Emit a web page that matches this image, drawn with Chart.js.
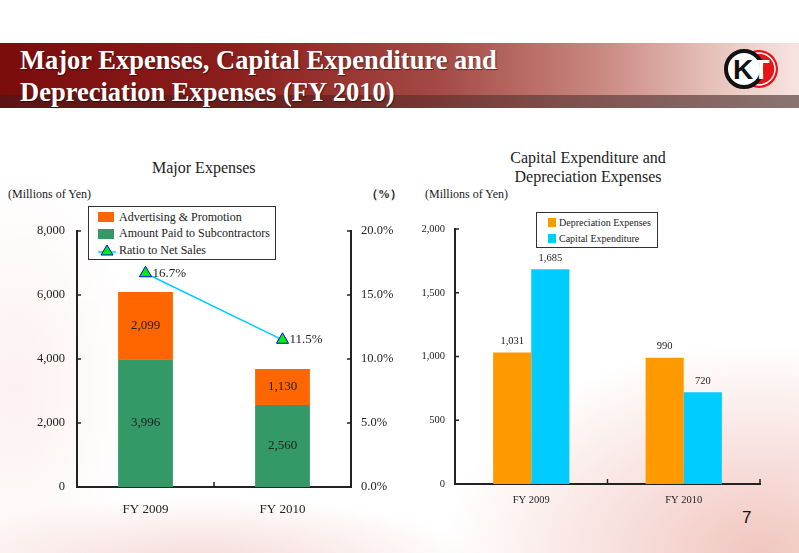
<!DOCTYPE html>
<html>
<head>
<meta charset="utf-8">
<script src="https://cdn.jsdelivr.net/npm/chart.js@4.4.1/dist/chart.umd.min.js"></script>
<style>
body { margin: 0; width: 799px; height: 553px; overflow: hidden; position: relative; background: #fff; font-family: "Liberation Serif", "Times New Roman", serif; color: #222; }
.bg { position: absolute; left: 0; top: 0; width: 799px; height: 553px;
  background:
    radial-gradient(ellipse 420px 280px at 95% 100%, rgba(232,160,150,0.6), rgba(255,255,255,0) 75%),
    radial-gradient(ellipse 380px 90px at 25% 102%, rgba(236,180,175,0.5), rgba(255,255,255,0) 75%),
    radial-gradient(ellipse 160px 300px at 2% 70%, rgba(245,215,212,0.35), rgba(255,255,255,0) 75%); }
.banner { position: absolute; left: 0; top: 43px; width: 799px; height: 65px;
  background: linear-gradient(to right, #7a0c0c 0%, #8c201d 30%, #a44a45 55%, #c98880 75%, #ecccc6 92%, #f6e4e1 100%); }
.strip { position: absolute; left: 0; top: 95px; width: 799px; height: 13px;
  background: linear-gradient(to right, #5e1313 0%, #6e2420 40%, #7e4f4b 70%, #8a7470 100%); }
.title { position: absolute; left: 20px; top: 44px; color: #fff; font-weight: bold; font-size: 26.5px; line-height: 32px; text-shadow: 1px 1px 1px rgba(0,0,0,0.5); }
.logo { position: absolute; left: 724px; top: 47px; }
.t { position: absolute; white-space: nowrap; }
canvas { position: absolute; }
.legend { position: absolute; background: #fff; border: 1.5px solid #333; box-sizing: border-box; }
.row { display: flex; align-items: center; white-space: nowrap; }
.sw { display: inline-block; }
</style>
</head>
<body>
<div class="bg"></div>
<div class="banner"></div>
<div class="strip"></div>
<div class="title">Major Expenses, Capital Expenditure and<br>Depreciation Expenses (FY 2010)</div>
<svg class="logo" width="56" height="44" viewBox="0 0 56 44">
  <circle cx="35" cy="22" r="19" fill="#e8141b"/>
  <circle cx="35" cy="22" r="16" fill="#e8141b" stroke="#fff" stroke-width="1.5"/>
  <circle cx="20" cy="22" r="18" fill="#fff" stroke="#111" stroke-width="4"/>
  <text x="19" y="32" text-anchor="middle" font-family="Liberation Sans" font-weight="bold" font-size="28" fill="#111">K</text>
  <text x="37" y="32" text-anchor="middle" font-family="Liberation Sans" font-weight="bold" font-size="28" fill="#fff">T</text>
</svg>

<div class="t" style="left:152px; top:158px; font-size:16px; line-height:20px;">Major Expenses</div>
<div class="t" style="left:8px; top:186px; font-size:12px; line-height:16px;">(Millions of Yen)</div>
<div class="t" style="left:366px; top:186px; font-size:12px; line-height:16px; font-weight:bold;">（%）</div>
<div class="t" style="left:508px; top:148px; font-size:16px; line-height:19px; text-align:center; width:160px;">Capital Expenditure and<br>Depreciation Expenses</div>
<div class="t" style="left:425px; top:186px; font-size:12px; line-height:16px;">(Millions of Yen)</div>
<div class="t" style="left:742px; top:508px; font-size:17px; line-height:20px; font-family:'Liberation Sans', sans-serif; color:#111;">7</div>

<canvas id="left" width="420" height="330" style="left:0; top:200px;"></canvas>
<canvas id="right" width="379" height="330" style="left:420px; top:200px;"></canvas>

<div class="legend" style="left:88px; top:206px; width:188px; height:54px; padding:2px 0 0 9px; font-size:12px;">
  <div class="row" style="height:16.5px;"><span class="sw" style="width:16px; height:10px; background:#ff6600; margin-right:5px;"></span>Advertising &amp; Promotion</div>
  <div class="row" style="height:16.5px;"><span class="sw" style="width:16px; height:10px; background:#339966; margin-right:5px;"></span>Amount Paid to Subcontractors</div>
  <div class="row" style="height:16.5px;"><svg width="18" height="14" style="margin-right:3px;"><line x1="0" y1="9" x2="18" y2="9" stroke="#00ccff" stroke-width="1.5"/><polygon points="9,2 15,12 3,12" fill="#00ee00" stroke="#0000ff" stroke-width="1"/></svg>Ratio to Net Sales</div>
</div>

<div class="legend" style="left:536px; top:212px; width:122px; height:36px; padding:2px 0 0 11px; font-size:10px;">
  <div class="row" style="height:15.5px;"><span class="sw" style="width:8px; height:9px; background:#ff9900; margin-right:3px;"></span>Depreciation Expenses</div>
  <div class="row" style="height:15.5px;"><span class="sw" style="width:8px; height:9px; background:#00ccff; margin-right:3px;"></span>Capital Expenditure</div>
</div>

<script>
// values
const years = ['FY 2009', 'FY 2010'];
const subcontractors = [3996, 2560];
const advertising = [2099, 1130];
const ratioToSales = [16.7, 11.5];
const depreciation = [1031, 990];
const capex = [1685, 720];

const serif = '"Liberation Serif", "Times New Roman", serif';
const ink = '#222';

function fmt(v) {
    return v.toLocaleString('en-US');
}

// small tick marks pointing into the plot, like the original slide
const innerTicks = {
    id: 'innerTicks',
    afterDraw(chart) {
        const ctx = chart.ctx;
        const area = chart.chartArea;
        ctx.save();
        ctx.strokeStyle = ink;
        ctx.lineWidth = 1.5;
        Object.values(chart.scales).forEach(function(scale) {
            if (scale.axis === 'y') {
                const left = scale.position === 'left';
                const x0 = left ? area.left : area.right;
                const dir = left ? 1 : -1;
                scale.ticks.forEach(function(t, i) {
                    const y = scale.getPixelForTick(i);
                    ctx.beginPath();
                    ctx.moveTo(x0, y);
                    ctx.lineTo(x0 + dir * 4, y);
                    ctx.stroke();
                });
            } else {
                const a = scale.getPixelForValue(0);
                const b = scale.getPixelForValue(1);
                [(a + b) / 2, area.right].forEach(function(x) {
                    ctx.beginPath();
                    ctx.moveTo(x, area.bottom);
                    ctx.lineTo(x, area.bottom - 5);
                    ctx.stroke();
                });
            }
        });
        ctx.restore();
    }
};

const valueLabels = {
    id: 'valueLabels',
    afterDatasetsDraw(chart, args, opts) {
        const ctx = chart.ctx;
        ctx.save();
        ctx.fillStyle = ink;
        ctx.font = opts.size + 'px ' + serif;
        chart.data.datasets.forEach(function(ds, di) {
            const meta = chart.getDatasetMeta(di);
            meta.data.forEach(function(el, i) {
                const v = ds.data[i];
                if (ds.type === 'line') {
                    ctx.textAlign = 'left';
                    ctx.textBaseline = 'middle';
                    ctx.fillText(v.toFixed(1) + '%', el.x + 7, el.y);
                } else if (opts.mode === 'inside') {
                    ctx.textAlign = 'center';
                    ctx.textBaseline = 'middle';
                    ctx.fillText(fmt(v), el.x, (el.y + el.base) / 2);
                } else {
                    ctx.textAlign = 'center';
                    ctx.textBaseline = 'bottom';
                    ctx.fillText(fmt(v), el.x, el.y - 6);
                }
            });
        });
        ctx.restore();
    }
};

const axisLine = { display: true, color: ink, width: 2 };
const noGrid = { display: false, drawTicks: false };

new Chart(document.getElementById('left'), {
    type: 'bar',
    data: {
        labels: years,
        datasets: [{
            type: 'line',
            label: 'Ratio to Net Sales',
            data: ratioToSales,
            yAxisID: 'y1',
            borderColor: '#00ccff',
            borderWidth: 1.5,
            pointStyle: 'triangle',
            pointRadius: 7,
            pointBackgroundColor: '#00ee00',
            pointBorderColor: '#0000ff',
            pointBorderWidth: 1,
            order: 0
        }, {
            label: 'Amount Paid to Subcontractors',
            data: subcontractors,
            backgroundColor: '#339966',
            order: 1
        }, {
            label: 'Advertising & Promotion',
            data: advertising,
            backgroundColor: '#ff6600',
            order: 1
        }]
    },
    options: {
        responsive: false,
        animation: false,
        devicePixelRatio: 1,
        layout: { padding: { top: 31, left: 0, right: 0, bottom: 0 } },
        barPercentage: 0.4,
        categoryPercentage: 1.0,
        plugins: {
            legend: { display: false },
            tooltip: { enabled: false },
            valueLabels: { mode: 'inside', size: 13 }
        },
        scales: {
            x: {
                stacked: true,
                grid: noGrid,
                border: axisLine,
                ticks: { color: ink, font: { family: serif, size: 13 }, padding: 15 },
                afterFit: function(s) { s.height = 43; }
            },
            y: {
                stacked: true,
                min: 0,
                max: 8000,
                grid: noGrid,
                border: axisLine,
                ticks: { stepSize: 2000, color: ink, font: { family: serif, size: 12.5 }, padding: 12, callback: fmt },
                afterFit: function(s) { s.width = 77; }
            },
            y1: {
                position: 'right',
                min: 0,
                max: 20,
                grid: noGrid,
                border: axisLine,
                ticks: { stepSize: 5, color: ink, font: { family: serif, size: 12.5 }, padding: 10, callback: function(v) { return v.toFixed(1) + '%'; } },
                afterFit: function(s) { s.width = 69; }
            }
        }
    },
    plugins: [innerTicks, valueLabels]
});

new Chart(document.getElementById('right'), {
    type: 'bar',
    data: {
        labels: years,
        datasets: [{
            label: 'Depreciation Expenses',
            data: depreciation,
            backgroundColor: '#ff9900'
        }, {
            label: 'Capital Expenditure',
            data: capex,
            backgroundColor: '#00ccff'
        }]
    },
    options: {
        responsive: false,
        animation: false,
        devicePixelRatio: 1,
        layout: { padding: { top: 29, left: 0, right: 39, bottom: 0 } },
        barPercentage: 1.0,
        categoryPercentage: 0.5,
        plugins: {
            legend: { display: false },
            tooltip: { enabled: false },
            valueLabels: { mode: 'above', size: 10.5 }
        },
        scales: {
            x: {
                grid: noGrid,
                border: axisLine,
                ticks: { color: ink, font: { family: serif, size: 10.5 }, padding: 10 },
                afterFit: function(s) { s.height = 46; }
            },
            y: {
                min: 0,
                max: 2000,
                grid: noGrid,
                border: axisLine,
                ticks: { stepSize: 500, color: ink, font: { family: serif, size: 10.5 }, padding: 10, callback: fmt },
                afterFit: function(s) { s.width = 35; }
            }
        }
    },
    plugins: [innerTicks, valueLabels]
});
</script>
</body>
</html>
